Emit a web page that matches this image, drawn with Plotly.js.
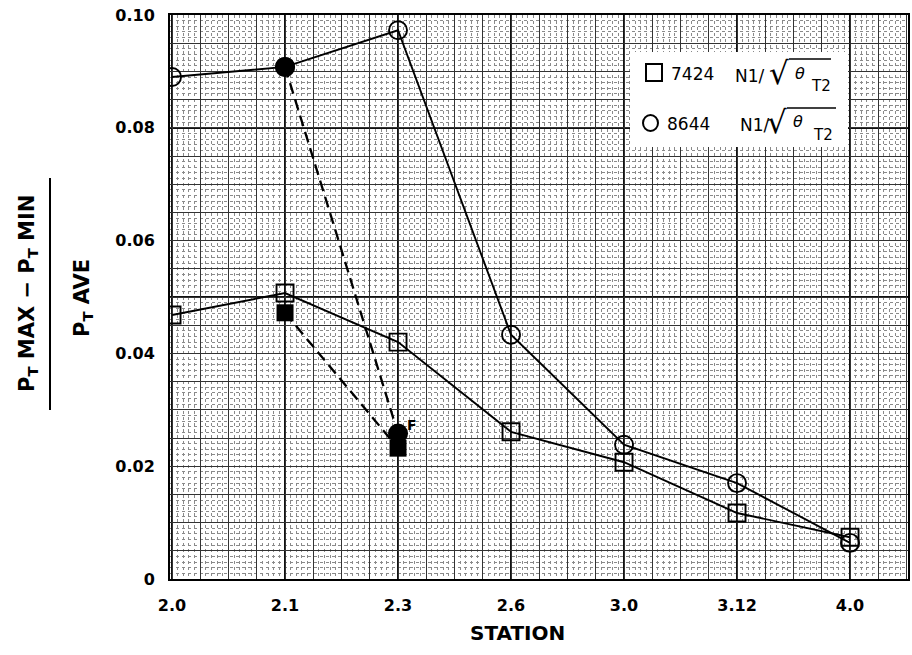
<!DOCTYPE html>
<html>
<head>
<meta charset="utf-8">
<script src="https://cdn.plot.ly/plotly-3.0.1.min.js"></script>
<style>html,body{margin:0;padding:0;background:#fff;}</style>
</head>
<body>
<div id="chart" style="width:912px;height:655px;"></div>
<script>
// ---- data ----
const stations = ['2.0', '2.1', '2.3', '2.6', '3.0', '3.12', '4.0'];
const sq7424 = [0.0468, 0.0507, 0.0420, 0.0261, 0.0207, 0.0117, 0.0074];
const circ8644 = [0.0890, 0.0908, 0.0973, 0.0433, 0.0238, 0.0170, 0.0064];
const fStations = ['2.1', '2.3'];
const sq7424F = [0.0472, 0.0232];
const circ8644F = [0.0908, 0.0258];
const yTickVals = [0, 0.01, 0.02, 0.03, 0.04, 0.05, 0.06, 0.07, 0.08, 0.09, 0.10];
const yTickText = ['0', '', '0.02', '', '0.04', '', '0.06', '', '0.08', '', '0.10'];
const legendNames = ['7424', '8644'];

// ---- geometry helpers ----
const W = 912, H = 655, L = 170, R = 908, T = 15, B = 579;
const px = v => (v - L) / (R - L);
const py = v => (B - v) / (B - T);

const xIdx = stations.map((s, i) => i);
const fIdx = fStations.map(s => stations.indexOf(s));

const xTickVals = [], xTickText = [];
for (let i = 0; i <= 13; i++) {
  xTickVals.push(i * 0.5);
  xTickText.push(i % 2 === 0 && stations[i / 2] !== undefined ? stations[i / 2] : '');
}

const FONT = 'DejaVu Sans, Arial, sans-serif';
const xRange = [-0.018, 6.513];
const yRange = [0, 0.1];

const traces = [
  {x: [], y: [], xaxis: 'x2', yaxis: 'y2', mode: 'markers', showlegend: false, hoverinfo: 'skip'},
  {x: xIdx, y: sq7424, name: legendNames[0], mode: 'lines+markers',
   line: {color: '#000', width: 1.9},
   marker: {symbol: 'square-open', size: 17, color: '#000', line: {width: 1.9, color: '#000'}}},
  {x: xIdx, y: circ8644, name: legendNames[1], mode: 'lines+markers',
   line: {color: '#000', width: 1.9},
   marker: {symbol: 'circle-open', size: 18, color: '#000', line: {width: 1.9, color: '#000'}}},
  {x: fIdx, y: sq7424F, name: legendNames[0] + ' F', mode: 'lines+markers',
   line: {color: '#000', width: 2.3, dash: '11px,6px'},
   marker: {symbol: 'square', size: 17, color: '#000'}},
  {x: fIdx, y: circ8644F, name: legendNames[1] + ' F', mode: 'lines+markers',
   line: {color: '#000', width: 2.3, dash: '11px,6px'},
   marker: {symbol: 'circle', size: 20, color: '#000'}}
];

function ann(x, y, text, size, bold, extra) {
  return Object.assign({
    xref: 'paper', yref: 'paper', x: px(x), y: py(y), text: text, showarrow: false,
    xanchor: 'center', yanchor: 'middle',
    font: {family: FONT, size: size, color: '#000', weight: bold ? 'bold' : 'normal'}
  }, extra || {});
}

const layout = {
  width: W, height: H,
  margin: {l: L, r: W - R, t: T, b: H - B, pad: 0},
  paper_bgcolor: '#fff', plot_bgcolor: '#fff',
  showlegend: false,
  font: {family: FONT, color: '#000'},
  xaxis: {
    range: xRange, tickmode: 'array', tickvals: xTickVals, ticktext: xTickText,
    ticks: '', ticklabelstandoff: 11, tickfont: {family: FONT, size: 16, color: '#000', weight: 'bold'},
    showgrid: true, gridcolor: '#111', gridwidth: 1.4, zeroline: false,
    showline: true, mirror: true, linecolor: '#000', linewidth: 2,
    minor: {tick0: 0, dtick: 0.05, showgrid: true, gridcolor: '#8a8a8a', griddash: 'dot', gridwidth: 1, ticks: ''}
  },
  yaxis: {
    range: yRange, tickmode: 'array', tickvals: yTickVals, ticktext: yTickText,
    ticks: '', ticklabelstandoff: 10, tickfont: {family: FONT, size: 16, color: '#000', weight: 'bold'},
    showgrid: true, gridcolor: '#111', gridwidth: 1.4, zeroline: false,
    showline: true, mirror: true, linecolor: '#000', linewidth: 2,
    minor: {tick0: 0, dtick: 0.001, showgrid: true, gridcolor: '#8a8a8a', griddash: 'dot', gridwidth: 1, ticks: ''}
  },
  xaxis2: {
    overlaying: 'x', anchor: 'y2', range: xRange, tickmode: 'linear', tick0: 0, dtick: 0.25,
    showticklabels: false, ticks: '', showgrid: true, gridcolor: '#333', gridwidth: 1,
    zeroline: false, showline: false
  },
  yaxis2: {
    overlaying: 'y', anchor: 'x2', range: yRange, tickmode: 'linear', tick0: 0, dtick: 0.005,
    showticklabels: false, ticks: '', showgrid: true, gridcolor: '#333', gridwidth: 1,
    zeroline: false, showline: false
  },
  shapes: [
    // y-title fraction bar
    {type: 'line', xref: 'paper', yref: 'paper', x0: px(50), x1: px(50), y0: py(178), y1: py(410),
     line: {color: '#000', width: 2}},
    // legend box
    {type: 'rect', xref: 'paper', yref: 'paper', x0: px(630), x1: px(848), y0: py(52), y1: py(147),
     fillcolor: '#fff', line: {width: 0}, layer: 'above'},
    {type: 'rect', xref: 'paper', yref: 'paper', x0: px(646), x1: px(662), y0: py(64), y1: py(81),
     fillcolor: 'rgba(0,0,0,0)', line: {color: '#000', width: 2}, layer: 'above'},
    {type: 'circle', xref: 'paper', yref: 'paper', x0: px(643), x1: px(658), y0: py(115), y1: py(131),
     fillcolor: 'rgba(0,0,0,0)', line: {color: '#000', width: 2}, layer: 'above'},
    // radical overlines
    {type: 'line', xref: 'paper', yref: 'paper', x0: px(789), x1: px(831), y0: py(59), y1: py(59),
     line: {color: '#000', width: 1.6}, layer: 'above'},
    {type: 'line', xref: 'paper', yref: 'paper', x0: px(787), x1: px(836), y0: py(108), y1: py(108),
     line: {color: '#000', width: 1.6}, layer: 'above'}
  ],
  annotations: [
    ann(28, 294, 'P<sub>T</sub> MAX − P<sub>T</sub> MIN', 21, true, {textangle: -90}),
    ann(83, 298, 'P<sub>T</sub> AVE', 21, true, {textangle: -90}),
    ann(517, 633, 'STATION', 20, true),
    // legend row 1
    ann(669, 74, legendNames[0], 17, false, {xanchor: 'left'}),
    ann(733, 76, 'N1/', 17, false, {xanchor: 'left'}),
    ann(779, 73, '√', 31, false),
    ann(800, 73, '<i>θ</i>', 16, false),
    ann(821, 86, 'T2', 15, false),
    // legend row 2
    ann(665, 124, legendNames[1], 17, false, {xanchor: 'left'}),
    ann(738, 125, 'N1/', 17, false, {xanchor: 'left'}),
    ann(777, 122, '√', 31, false),
    ann(798, 122, '<i>θ</i>', 16, false),
    ann(823, 135, 'T2', 15, false),
    {x: fIdx[1], y: circ8644F[1], xref: 'x', yref: 'y', text: 'F', showarrow: false,
     xshift: 14, yshift: 8, font: {family: FONT, size: 14, color: '#000', weight: 'bold'}}
  ]
};

Plotly.newPlot('chart', traces, layout, {displayModeBar: false, staticPlot: true});
</script>
</body>
</html>
